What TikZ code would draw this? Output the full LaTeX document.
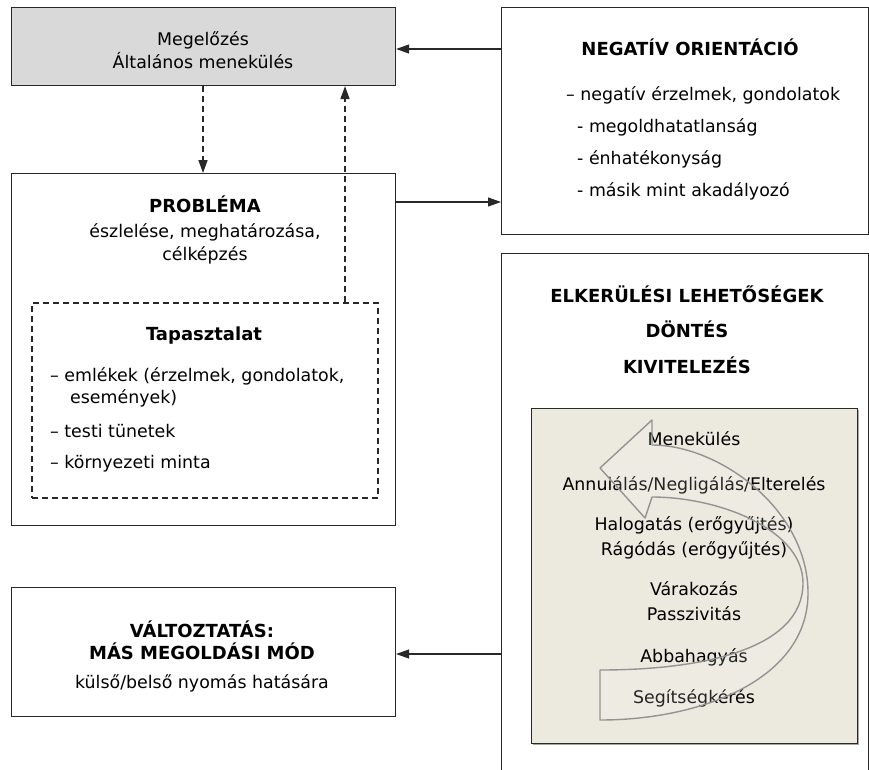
\documentclass[tikz,border=0pt]{standalone}
\usepackage{fontspec}
\setmainfont{DejaVu Sans}
\usetikzlibrary{arrows.meta,calc}
\definecolor{boxgray}{RGB}{217,217,217}
\definecolor{beige}{RGB}{236,233,222}
\definecolor{linecol}{RGB}{40,40,40}
\begin{document}
\begin{tikzpicture}[x=1pt,y=-1pt,
  box/.style={draw=linecol,line width=1.1pt,rectangle,inner sep=0pt,anchor=north west},
  txt/.style={font=\fontsize{17.4}{20}\selectfont,inner sep=0pt,anchor=base},
  ltxt/.style={txt,anchor=base west},
  btxt/.style={font=\fontsize{18}{21}\selectfont\bfseries,inner sep=0pt,anchor=base},
  arr/.style={draw=linecol,line width=1.1pt,-{Triangle[length=13pt,width=9pt]}},
  darr/.style={arr,dash pattern=on 6pt off 4pt,line width=1.5pt}
]
\useasboundingbox (0,0) rectangle (869,769);
\clip (0,0) rectangle (869,769);
% boxes
\node[box,fill=boxgray,minimum width=384pt,minimum height=78pt] (meg) at (11,7) {};
\node[box,minimum width=384pt,minimum height=352pt] (prob) at (11,173) {};
\node[box,dash pattern=on 6pt off 4pt,line width=1.5pt,minimum width=346pt,minimum height=195pt] (tap) at (31,302) {};
\node[box,minimum width=367pt,minimum height=227pt] (neg) at (501,7) {};
\node[box,minimum width=367pt,minimum height=560pt] (elk) at (501,253) {};
\node[box,minimum width=384pt,minimum height=129pt] (valt) at (11,587) {};
\fill[gray!70] (533,410) rectangle (859,745);
\node[box,fill=beige,minimum width=326pt,minimum height=335pt] (inner) at (531,408) {};
% texts
\node[txt] (t1) at (203,45) {Megelőzés};
\node[txt] (t2) at (203,68) {Általános menekülés};
\node[btxt] (t3) at (690,55) {NEGATÍV ORIENTÁCIÓ};
\node[ltxt] (t4) at (566,100) {– negatív érzelmek, gondolatok};
\node[ltxt] (t5) at (577,132) {- megoldhatatlanság};
\node[ltxt] (t6) at (577,164) {- énhatékonyság};
\node[ltxt] (t7) at (577,196) {- másik mint akadályozó};
\node[btxt] (t8) at (205,212) {PROBLÉMA};
\node[txt] (t9) at (205,237) {észlelése, meghatározása,};
\node[txt] (t10) at (205,260) {célképzés};
\node[btxt] (t11) at (204,340) {Tapasztalat};
\node[ltxt] (t12) at (50,381) {– emlékek (érzelmek, gondolatok,};
\node[ltxt] (t13) at (70,403) {események)};
\node[ltxt] (t14) at (50,437) {– testi tünetek};
\node[ltxt] (t15) at (50,468) {– környezeti minta};
\node[btxt] (t16) at (687,302) {ELKERÜLÉSI LEHETŐSÉGEK};
\node[btxt] (t17) at (687,337) {DÖNTÉS};
\node[btxt] (t18) at (687,373) {KIVITELEZÉS};
\node[txt] (t19) at (694,445) {Menekülés};
\node[txt] (t20) at (694,490) {Annuiálás/Negligálás/Elterelés};
\node[txt] (t21) at (694,530) {Halogatás (erőgyűjtés)};
\node[txt] (t22) at (694,555) {Rágódás (erőgyűjtés)};
\node[txt] (t23) at (694,595) {Várakozás};
\node[txt] (t24) at (694,620) {Passzivitás};
\node[txt] (t25) at (694,662) {Abbahagyás};
\node[txt] (t26) at (694,703) {Segítségkérés};
\node[btxt] (t27) at (202,637) {VÁLTOZTATÁS:};
\node[btxt] (t28) at (202,659) {MÁS MEGOLDÁSI MÓD};
\node[txt] (t29) at (202,688) {külső/belső nyomás hatására};
% curved arrow
\draw[draw=gray!85,line width=1.4pt,fill=white,fill opacity=0.15,line join=round]
  (600,670) -- (600,720)
  .. controls (700,720) and (808,680) .. (808,593)
  .. controls (808,510) and (720,445) .. (652,445)
  -- (652,420) -- (600,468) -- (645,518) -- (652,497)
  .. controls (720,497) and (803,530) .. (803,583)
  .. controls (803,650) and (700,670) .. (600,670) -- cycle;
% connectors
\draw[arr] (neg.west |- 0,49) -- (meg.east |- 0,49);
\draw[arr] (prob.east |- 0,202) -- (neg.west |- 0,202);
\draw[darr] (meg.south -| 203,0) -- (prob.north -| 203,0);
\draw[darr] (tap.north -| 345,0) -- (meg.south -| 345,0);
\draw[arr] (elk.west |- 0,654) -- (valt.east |- 0,654);
\end{tikzpicture}
\end{document}
